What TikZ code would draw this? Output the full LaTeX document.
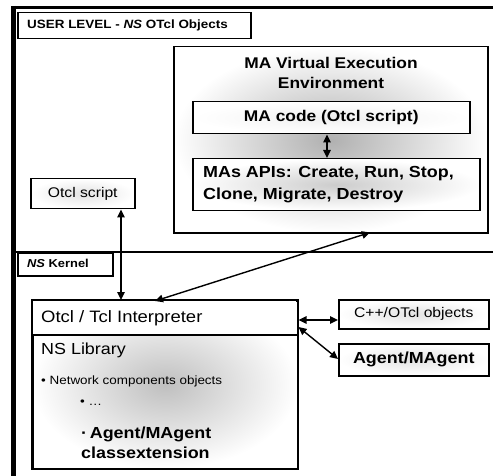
\documentclass[tikz,border=0pt]{standalone}
\usepackage{fontspec}
\setmainfont{Liberation Sans}[FakeStretch=1.12]
\usetikzlibrary{arrows.meta}
\begin{document}
\begin{tikzpicture}[x=1pt,y=-1pt,
  box/.style={draw=black, line width=1.5pt, inner sep=0pt, anchor=north west},
  lightbox/.style={box, shading=radial, inner color=gray!22, outer color=white},
  txt/.style={inner sep=0pt, font=#1},
  dbl/.style={line width=1.4pt, {Triangle[length=8pt,width=7.5pt]}-{Triangle[length=8pt,width=7.5pt]}}
]
\useasboundingbox (0,0) rectangle (493,476);
% outer frame
\draw[line width=3pt] (11,7.5) -- (493,7.5);
\draw[line width=4.5pt] (13.5,6) -- (13.5,476);
\draw[line width=2.2pt] (15,252) -- (493,252);

% user level label
\node[box, fill=white, minimum width=233pt, minimum height=26pt] (user) at (17,12) {};
\node[txt={\fontsize{12}{14}\selectfont\bfseries}, anchor=west] (usert) at (27,25) {USER LEVEL - \textit{NS} OTcl Objects};

% MA virtual execution environment
\node[box, shading=radial, inner color=gray!62, outer color=white, minimum width=314pt, minimum height=186pt] (vee) at (173,46) {};
\node[txt={\fontsize{15.5}{19.5}\selectfont\bfseries}, align=center] (veet) at (331,73) {MA Virtual Execution\\Environment};
\node[box, shading=radial, inner color=gray!12, outer color=white, minimum width=277pt, minimum height=32pt] (macode) at (192,101) {};
\node[txt={\fontsize{15.5}{18}\selectfont\bfseries}] (macodet) at (macode.center) {MA code (Otcl script)};
\node[box, shading=radial, inner color=gray!40, outer color=white, minimum width=287pt, minimum height=52pt] (apis) at (192,158) {};
\node[txt={\fontsize{16}{22}\selectfont\bfseries}, align=left, anchor=west] (apist) at (203,185) {MAs APIs: Create, Run, Stop,\\Clone, Migrate, Destroy};

% Otcl script
\node[lightbox, minimum width=104pt, minimum height=30pt] (otcl) at (30,178) {};
\node[txt={\fontsize{14}{16}\selectfont}] (otclt) at (otcl.center) {Otcl script};

% NS kernel label
\node[box, fill=white, minimum width=95pt, minimum height=23pt] (kernel) at (17,252) {};
\node[txt={\fontsize{11.5}{13}\selectfont\bfseries}, anchor=west] (kernelt) at (27,263.5) {\textit{NS} Kernel};

% interpreter
\node[box, shading=radial, inner color=gray!50, outer color=white, minimum width=265pt, minimum height=168pt] (interp) at (32,300) {};
\fill[white] (32.8,300.8) rectangle (296.2,335);
\coordinate (dv) at (0,335);
\draw[line width=1.5pt] (interp.west |- dv) -- (interp.east |- dv);
\draw[line width=1.5pt] (interp.north west) rectangle (interp.south east);
\node[txt={\fontsize{16.5}{19}\selectfont}, anchor=west] (interpt) at (41,318) {Otcl / Tcl Interpreter};
\node[txt={\fontsize{16}{19}\selectfont}, anchor=west] (nslib) at (41,350) {NS Library};
\node[txt={\fontsize{12}{14}\selectfont}, anchor=west] (netc) at (41,381) {• Network components objects};
\node[txt={\fontsize{12}{14}\selectfont}, anchor=west] (dots) at (80,403) {• …};
\node[txt={\fontsize{16}{20}\selectfont\bfseries}, align=left, anchor=west] (agext) at (81,443) {·\,Agent/MAgent\\classextension};

% right boxes
\node[lightbox, minimum width=150pt, minimum height=29pt] (cpp) at (338,299) {};
\node[txt={\fontsize{14}{16}\selectfont}] (cppt) at (cpp.center) {C++/OTcl objects};
\node[lightbox, minimum width=150pt, minimum height=32pt] (agent) at (338,343) {};
\node[txt={\fontsize{16}{18}\selectfont\bfseries}] (agentt) at (agent.center) {Agent/MAgent};

% connectors
\coordinate (c1) at (121,0);
\coordinate (c2) at (155,0);
\coordinate (c3) at (370,0);
\coordinate (c4) at (327,0);
\coordinate (r1) at (0,320);
\coordinate (r2a) at (0,327);
\coordinate (r2b) at (0,359);
\draw[dbl] (otcl.south -| c1) -- (interp.north -| c1);
\draw[dbl] ([yshift=-1pt]interp.north -| c2) -- ([yshift=1pt]vee.south -| c3);
\draw[dbl] (macode.south -| c4) -- (apis.north -| c4);
\draw[dbl] (interp.east |- r1) -- (cpp.west |- r1);
\draw[dbl] (interp.east |- r2a) -- (agent.west |- r2b);
\end{tikzpicture}
\end{document}
